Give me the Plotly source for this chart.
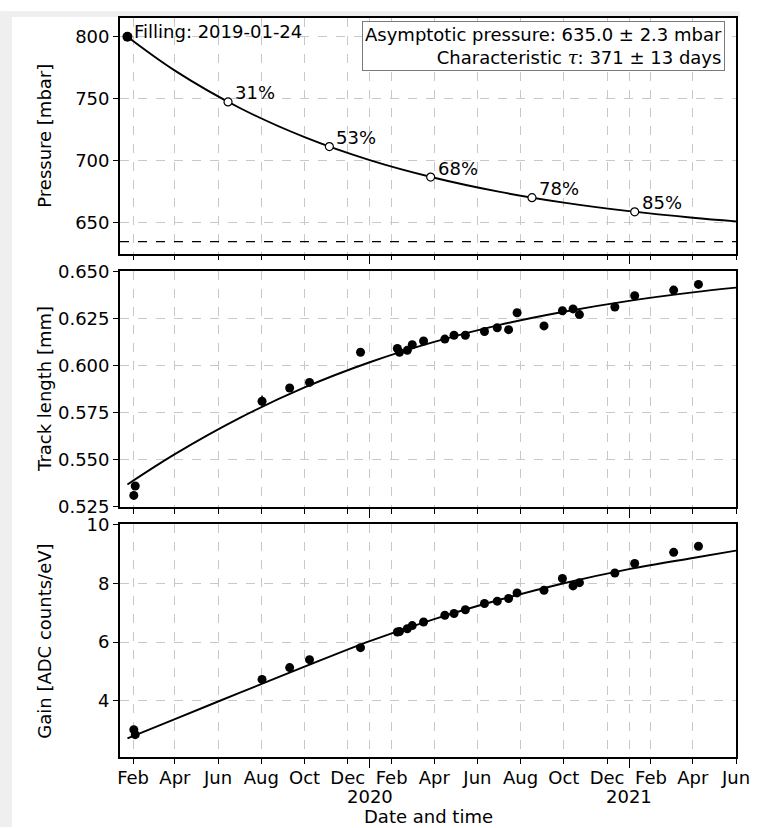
import plotly.graph_objects as go

# ---------------- data ----------------
fill_date = "2019-01-24"
fill_pressure = 800.0
asymptote = 635.0

fit_dates = ["2019-01-24", "2019-04-01", "2019-07-01", "2019-10-01", "2020-01-01",
             "2020-04-01", "2020-07-01", "2020-10-01", "2021-01-01", "2021-04-01", "2021-06-01"]
pressure_fit = [800.0, 772.7, 742.8, 719.1, 700.6, 686.4, 675.2, 666.4, 659.5, 654.2, 651.3]
track_fit = [0.5368, 0.5529, 0.5720, 0.5883, 0.6017, 0.6125, 0.6214, 0.6285, 0.6343, 0.6388, 0.6413]
gain_fit = [2.72, 3.38, 4.27, 5.16, 6.03, 6.78, 7.43, 8.00, 8.48, 8.86, 9.11]

marker_dates = ["2019-06-15", "2019-11-05", "2020-03-27", "2020-08-17", "2021-01-09"]
marker_pressure = [747.5, 711.5, 687.0, 670.4, 659.0]
marker_labels = ["31%", "53%", "68%", "78%", "85%"]

meas_dates = ["2019-02-02", "2019-02-04", "2019-08-02", "2019-09-10", "2019-10-08", "2019-12-19",
              "2020-02-09", "2020-02-12", "2020-02-23", "2020-03-01", "2020-03-17", "2020-04-16",
              "2020-04-29", "2020-05-15", "2020-06-11", "2020-06-29", "2020-07-15", "2020-07-27",
              "2020-09-03", "2020-09-29", "2020-10-14", "2020-10-23", "2020-12-12", "2021-01-09",
              "2021-03-05", "2021-04-09"]
track_length = [0.531, 0.536, 0.581, 0.588, 0.591, 0.607, 0.609, 0.607, 0.608, 0.611, 0.613, 0.614,
                0.616, 0.616, 0.618, 0.620, 0.619, 0.628, 0.621, 0.629, 0.630, 0.627, 0.631, 0.637,
                0.640, 0.643]
track_err = [0.0015, 0.0015, 0.003, 0.0015, 0.0015, 0.0015, 0.0015, 0.0015, 0.0015, 0.0015, 0.0015, 0.0015,
             0.0015, 0.0015, 0.0015, 0.0015, 0.0015, 0.0015, 0.0015, 0.0015, 0.0015, 0.0015, 0.0015, 0.0015,
             0.002, 0.002]
gain = [3.02, 2.85, 4.73, 5.13, 5.40, 5.81, 6.34, 6.36, 6.45, 6.56, 6.68, 6.91,
        6.97, 7.10, 7.31, 7.39, 7.48, 7.67, 7.76, 8.16, 7.91, 8.02, 8.35, 8.67,
        9.05, 9.26]
gain_err = [0.08, 0.08, 0.08, 0.06, 0.06, 0.06, 0.06, 0.06, 0.06, 0.06, 0.06, 0.06,
            0.06, 0.06, 0.06, 0.06, 0.06, 0.06, 0.06, 0.08, 0.08, 0.08, 0.08, 0.1,
            0.12, 0.12]

month_ticks = ["2019-02-01", "2019-04-01", "2019-06-01", "2019-08-01", "2019-10-01", "2019-12-01",
               "2020-02-01", "2020-04-01", "2020-06-01", "2020-08-01", "2020-10-01", "2020-12-01",
               "2021-02-01", "2021-04-01", "2021-06-01"]
month_labels = ["Feb", "Apr", "Jun", "Aug", "Oct", "Dec", "Feb", "Apr", "Jun", "Aug", "Oct", "Dec",
                "Feb", "Apr", "Jun"]
year_ticks = ["2020-01-01", "2021-01-01"]
year_labels = ["2020", "2021"]

x_range = ["2019-01-13 12:00", "2021-06-01"]

# ---------------- figure ----------------
FONT = "DejaVu Sans"
FS = 18
fig = go.Figure()

line_style = dict(color="black", width=1.9, shape="spline")

fig.add_trace(go.Scatter(x=fit_dates, y=pressure_fit, mode="lines", line=line_style,
                         xaxis="x", yaxis="y", showlegend=False))
fig.add_trace(go.Scatter(x=marker_dates, y=marker_pressure, mode="markers",
                         marker=dict(size=8, color="white", line=dict(color="black", width=1.2)),
                         xaxis="x", yaxis="y", showlegend=False))
fig.add_trace(go.Scatter(x=[fill_date], y=[fill_pressure], mode="markers",
                         marker=dict(size=10, color="black"),
                         xaxis="x", yaxis="y", showlegend=False))

fig.add_trace(go.Scatter(x=fit_dates, y=track_fit, mode="lines", line=line_style,
                         xaxis="x2", yaxis="y2", showlegend=False))
fig.add_trace(go.Scatter(x=meas_dates, y=track_length, mode="markers",
                         marker=dict(size=9, color="black"),
                         error_y=dict(type="data", array=track_err, color="black", thickness=1.5, width=0),
                         xaxis="x2", yaxis="y2", showlegend=False))

fig.add_trace(go.Scatter(x=fit_dates, y=gain_fit, mode="lines", line=line_style,
                         xaxis="x3", yaxis="y3", showlegend=False))
fig.add_trace(go.Scatter(x=meas_dates, y=gain, mode="markers",
                         marker=dict(size=9, color="black"),
                         error_y=dict(type="data", array=gain_err, color="black", thickness=1.5, width=0),
                         xaxis="x3", yaxis="y3", showlegend=False))

grid = dict(showgrid=True, gridcolor="#c8c8c8", griddash="dash", gridwidth=0.8)
axline = dict(showline=True, linecolor="black", linewidth=1.8, mirror=True,
              ticks="outside", tickcolor="black", tickwidth=1.2, ticklen=5,
              tickfont=dict(family=FONT, size=FS, color="black"), zeroline=False)

def xaxis(show_labels, anchor):
    return dict(type="date", range=x_range, tickmode="array", tickvals=month_ticks,
                ticktext=month_labels, showticklabels=show_labels, anchor=anchor,
                ticklabelstandoff=-2,
                minor=dict(tickmode="array", tickvals=year_ticks, ticks="outside", ticklen=9,
                           tickcolor="black", tickwidth=1.2, showgrid=True, gridcolor="#c8c8c8",
                           griddash="dash", gridwidth=0.8),
                **grid, **axline)

fig.update_layout(
    width=758, height=828,
    margin=dict(l=120, r=22, t=7, b=71),
    paper_bgcolor="white", plot_bgcolor="white",
    font=dict(family=FONT, size=FS, color="black"),
    xaxis=dict(**xaxis(False, "y"), matches="x3"),
    xaxis2=dict(**xaxis(False, "y2"), matches="x3"),
    xaxis3=xaxis(True, "y3"),
    yaxis=dict(domain=[0.6813, 1.0], range=[625.4, 815.1], tickvals=[650, 700, 750, 800],
               anchor="x", **grid, **axline),
    yaxis2=dict(domain=[0.3387, 0.6573], range=[0.525, 0.650], tickmode="linear", tick0=0.525,
                dtick=0.025, tickformat=".3f", anchor="x2", **grid, **axline),
    yaxis3=dict(domain=[0.0, 0.3147], range=[2.09, 10.0], tickvals=[4, 6, 8, 10],
                anchor="x3", **grid, **axline),
)

# asymptote dashed line
fig.add_shape(type="line", xref="x domain", yref="y", x0=0, x1=1, y0=asymptote, y1=asymptote,
              line=dict(color="black", width=1.3, dash="dash"))

# screenshot border strips
fig.add_shape(type="rect", xref="paper", yref="paper", x0=-0.1948, x1=-0.1753, y0=-0.0947, y1=1.0093,
              fillcolor="#efefef", line=dict(width=0), layer="below")
fig.add_shape(type="rect", xref="paper", yref="paper", x0=-0.1948, x1=1.0065, y0=1.0013, y1=1.0093,
              fillcolor="#efefef", line=dict(width=0), layer="below")

ann = []
ann.append(dict(x=fill_date, y=fill_pressure, xref="x", yref="y", text="Filling: 2019-01-24",
                showarrow=False, xanchor="left", yanchor="middle", xshift=5, yshift=5,
                font=dict(family=FONT, size=FS, color="black")))
for d, p, lab in zip(marker_dates, marker_pressure, marker_labels):
    ann.append(dict(x=d, y=p, xref="x", yref="y", text=lab, showarrow=False,
                    xanchor="left", yanchor="middle", xshift=5, yshift=9,
                    font=dict(family=FONT, size=FS, color="black")))
ann.append(dict(x=0.9821, y=0.9874, xref="x domain", yref="y domain",
                text="Asymptotic pressure: 635.0 ± 2.3 mbar<br>Characteristic "
                     "<span style=\"font-family:'DejaVu Serif'\"><i>τ</i></span>: 371 ± 13 days",
                showarrow=False, xanchor="right", yanchor="top", align="right",
                bordercolor="#7a7a7a", borderwidth=1, borderpad=2, bgcolor="white",
                font=dict(family=FONT, size=FS, color="black")))
# y-axis titles
for yref, title in [("y domain", "Pressure [mbar]"), ("y2 domain", "Track length [mm]"),
                    ("y3 domain", "Gain [ADC counts/eV]")]:
    ann.append(dict(x=-0.1218, y=0.5, xref="paper", yref=yref, text=title, textangle=-90,
                    showarrow=False, xanchor="center", yanchor="middle",
                    font=dict(family=FONT, size=FS, color="black")))
for d, lab in zip(year_ticks, year_labels):
    ann.append(dict(x=d, y=-0.0535, xref="x3", yref="paper", text=lab, showarrow=False,
                    xanchor="center", yanchor="middle", font=dict(family=FONT, size=FS, color="black")))
ann.append(dict(x=0.5, y=-0.0805, xref="paper", yref="paper", text="Date and time", showarrow=False,
                xanchor="center", yanchor="middle", font=dict(family=FONT, size=FS, color="black")))
fig.update_layout(annotations=ann)

fig.write_html("out.html")
